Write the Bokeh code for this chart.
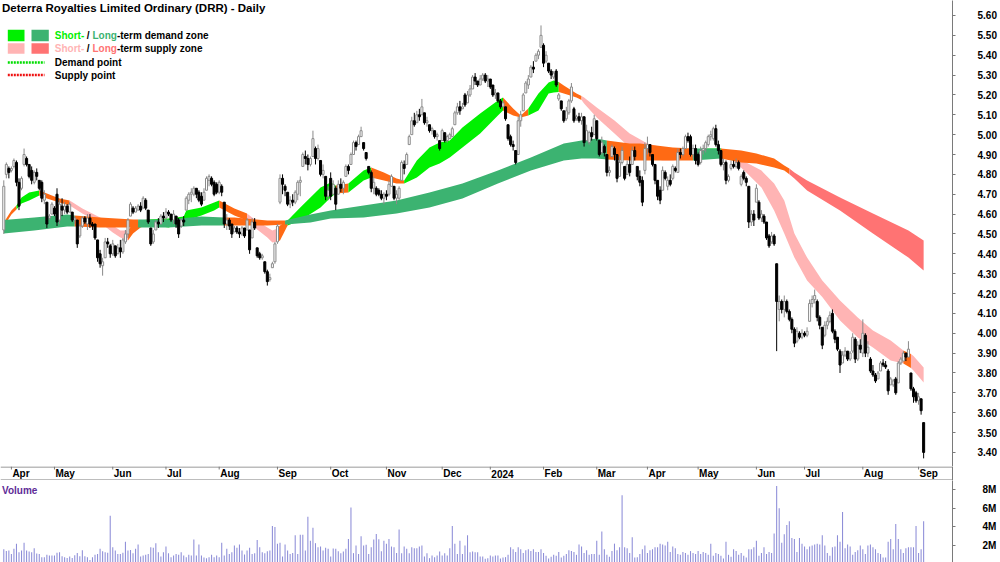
import numpy as np
import pandas as pd
from bokeh.plotting import figure
from bokeh.models import Range1d, FixedTicker, NumeralTickFormatter, Label
from bokeh.layouts import column
from bokeh.embed import file_html
from bokeh.resources import INLINE

# ---------------- data ----------------
asx_holidays = ["2023-04-07", "2023-04-10", "2023-04-25", "2023-06-12", "2023-12-25",
                "2023-12-26", "2024-01-01", "2024-01-26", "2024-03-29", "2024-04-01",
                "2024-04-25", "2024-06-10"]
first_day = "2023-03-29"
last_day = "2024-09-04"

opens = [
 4.52,4.80,4.83,4.82,4.84,4.86,4.76,4.73,4.85,4.88, 4.85,4.82,4.76,4.81,4.77,4.76,4.67,4.66,4.58,4.60,
 4.63,4.70,4.57,4.64,4.62,4.64,4.61,4.61,4.57,4.57, 4.49,4.54,4.58,4.55,4.58,4.55,4.55,4.47,4.40,4.34,
 4.38,4.46,4.44,4.40,4.44,4.40,4.43,4.41,4.46,4.50, 4.59,4.63,4.61,4.62,4.64,4.63,4.67,4.62,4.53,4.46,
 4.52,4.56,4.55,4.59,4.58,4.61,4.60,4.57,4.59,4.57, 4.54,4.57,4.62,4.67,4.70,4.70,4.73,4.71,4.69,4.67,
 4.72,4.77,4.78,4.76,4.75,4.71,4.74,4.66,4.55,4.57, 4.55,4.51,4.53,4.51,4.50,4.53,4.52,4.52,4.48,4.56,
 4.43,4.40,4.38,4.36,4.31,4.27,4.33,4.36,4.46,4.66, 4.78,4.74,4.71,4.65,4.67,4.66,4.70,4.76,4.84,4.89,
 4.88,4.85,4.89,4.93,4.88,4.87,4.80,4.79,4.69,4.78, 4.70,4.73,4.70,4.75,4.73,4.79,4.84,4.85,4.90,4.96,
 4.95,4.99,4.96,4.91,4.84,4.81,4.73,4.73,4.72,4.70, 4.68,4.70,4.70,4.74,4.74,4.68,4.68,4.77,4.85,4.85,
 4.95,5.00,5.07,5.06,5.10,5.10,5.11,5.06,5.05,5.02, 5.02,4.99,4.97,4.97,5.01,4.97,4.98,4.99,5.05,5.11,
 5.14,5.13,5.20,5.16,5.20,5.23,5.29,5.27,5.25,5.28, 5.30,5.27,5.28,5.25,5.20,5.21,5.17,5.14,5.14,5.05,
 4.99,4.95,4.92,4.90,5.07,5.12,5.21,5.25,5.29,5.34, 5.37,5.40,5.44,5.45,5.37,5.36,5.32,5.29,5.32,5.18,
 5.17,5.12,5.08,5.11,5.17,5.13,5.08,5.09,5.07,5.09, 4.97,4.96,5.01,5.00,5.07,4.97,4.91,4.94,4.90,4.81,
 4.89,4.93,4.90,4.79,4.86,4.84,4.80,4.85,4.85,4.92, 4.84,4.79,4.77,4.82,4.93,4.95,4.90,4.85,4.77,4.72,
 4.72,4.81,4.74,4.77,4.78,4.83,4.81,4.91,4.90,4.93, 4.99,4.99,4.90,4.93,4.90,4.86,4.92,4.93,4.95,4.99,
 4.98,5.03,4.95,4.92,4.85,4.86,4.77,4.83,4.85,4.84, 4.86,4.75,4.81,4.78,4.74,4.56,4.60,4.66,4.66,4.58,
 4.59,4.56,4.49,4.46,4.49,4.35,4.12,4.16,4.12,4.16, 4.11,4.07,4.02,3.96,4.00,3.98,4.00,3.99,4.06,4.15,
 4.17,4.16,4.08,4.03,3.99,4.04,4.06,4.10,4.01,3.98, 3.91,3.85,3.89,3.91,3.87,3.91,3.97,3.87,3.94,3.90,
 3.99,3.90,3.87,3.81,3.79,3.77,3.81,3.85,3.84,3.81, 3.74,3.74,3.77,3.75,3.85,3.86,3.90,3.88,3.80,3.72,
 3.70,3.66,3.67,3.55]
highs = [
 4.77,4.86,4.84,4.84,4.88,4.87,4.78,4.79,4.93,4.89, 4.85,4.84,4.82,4.83,4.77,4.77,4.72,4.66,4.60,4.66,
 4.64,4.73,4.67,4.68,4.66,4.65,4.66,4.61,4.59,4.57, 4.55,4.59,4.59,4.60,4.60,4.56,4.55,4.47,4.42,4.38,
 4.48,4.48,4.45,4.47,4.44,4.45,4.47,4.48,4.52,4.58, 4.66,4.64,4.64,4.65,4.66,4.69,4.68,4.62,4.53,4.52,
 4.57,4.58,4.60,4.61,4.63,4.62,4.60,4.62,4.59,4.58, 4.58,4.59,4.69,4.71,4.73,4.74,4.73,4.72,4.71,4.73,
 4.79,4.80,4.79,4.77,4.76,4.77,4.75,4.66,4.60,4.58, 4.55,4.54,4.54,4.53,4.54,4.53,4.58,4.52,4.58,4.58,
 4.43,4.41,4.40,4.36,4.32,4.30,4.36,4.46,4.55,4.80, 4.80,4.75,4.71,4.69,4.70,4.72,4.77,4.79,4.91,4.92,
 4.90,4.89,5.02,4.94,4.95,4.87,4.85,4.79,4.74,4.81, 4.77,4.74,4.77,4.78,4.77,4.85,4.85,4.91,4.97,4.97,
 5.00,5.04,4.96,4.91,4.84,4.82,4.79,4.74,4.73,4.72, 4.71,4.72,4.77,4.80,4.74,4.72,4.74,4.87,4.87,4.91,
 5.00,5.09,5.11,5.12,5.13,5.18,5.11,5.09,5.05,5.04, 5.02,5.01,4.97,5.03,5.01,5.00,5.01,5.04,5.12,5.16,
 5.17,5.16,5.21,5.22,5.25,5.30,5.31,5.27,5.30,5.31, 5.31,5.30,5.28,5.25,5.23,5.21,5.18,5.17,5.14,5.05,
 5.00,4.97,4.92,5.09,5.12,5.21,5.27,5.30,5.35,5.37, 5.41,5.43,5.55,5.46,5.42,5.36,5.33,5.32,5.33,5.21,
 5.17,5.12,5.14,5.18,5.26,5.14,5.10,5.11,5.11,5.09, 5.05,5.02,5.04,5.10,5.07,4.97,4.99,4.95,4.90,4.84,
 4.95,4.94,4.90,4.89,4.94,4.84,4.87,4.89,4.94,4.94, 4.84,4.82,4.79,4.96,4.99,4.95,4.90,4.85,4.77,4.74,
 4.84,4.82,4.79,4.80,4.85,4.84,4.93,4.93,4.94,5.00, 5.01,5.00,4.95,4.95,4.91,4.94,4.95,4.97,5.00,5.02,
 5.04,5.05,4.97,4.92,4.88,4.87,4.80,4.87,4.87,4.88, 4.87,4.80,4.82,4.79,4.74,4.62,4.62,4.75,4.67,4.62,
 4.60,4.56,4.50,4.51,4.50,4.35,4.19,4.17,4.19,4.17, 4.12,4.08,4.03,4.03,4.01,4.02,4.01,4.03,4.17,4.19,
 4.22,4.17,4.09,4.03,4.06,4.08,4.11,4.12,4.02,3.98, 3.92,3.91,3.93,3.91,3.91,4.00,3.98,3.96,3.97,4.07,
 4.00,3.96,3.88,3.84,3.80,3.81,3.86,3.87,3.86,3.82, 3.78,3.77,3.78,3.86,3.88,3.91,3.90,3.96,3.80,3.73,
 3.71,3.70,3.67,3.55]
lows = [
 4.50,4.78,4.78,4.81,4.83,4.74,4.62,4.72,4.84,4.84, 4.78,4.75,4.75,4.77,4.72,4.66,4.65,4.53,4.57,4.60,
 4.59,4.54,4.55,4.59,4.60,4.60,4.61,4.56,4.55,4.43, 4.48,4.53,4.55,4.52,4.53,4.52,4.47,4.36,4.33,4.29,
 4.38,4.43,4.38,4.39,4.38,4.40,4.38,4.40,4.45,4.48, 4.59,4.60,4.61,4.62,4.61,4.63,4.62,4.55,4.44,4.45,
 4.52,4.53,4.55,4.56,4.57,4.59,4.56,4.55,4.53,4.48, 4.53,4.54,4.62,4.65,4.66,4.69,4.68,4.66,4.64,4.67,
 4.72,4.74,4.74,4.69,4.70,4.70,4.69,4.53,4.52,4.52, 4.48,4.51,4.50,4.48,4.49,4.48,4.52,4.40,4.48,4.52,
 4.38,4.37,4.37,4.30,4.24,4.26,4.33,4.35,4.45,4.65, 4.70,4.69,4.64,4.63,4.64,4.65,4.67,4.69,4.84,4.85,
 4.82,4.84,4.89,4.85,4.87,4.79,4.78,4.67,4.67,4.67, 4.70,4.62,4.70,4.71,4.70,4.79,4.80,4.85,4.90,4.92,
 4.95,4.99,4.92,4.87,4.80,4.71,4.70,4.69,4.69,4.67, 4.65,4.67,4.69,4.74,4.67,4.65,4.67,4.77,4.80,4.85,
 4.95,5.00,5.04,5.06,5.07,5.10,5.05,5.04,5.01,5.00, 4.98,4.97,4.92,4.97,4.96,4.96,4.98,4.99,5.05,5.10,
 5.10,5.13,5.14,5.16,5.19,5.23,5.25,5.24,5.25,5.27, 5.26,5.24,5.23,5.19,5.18,5.16,5.13,5.14,5.07,4.97,
 4.94,4.92,4.85,4.90,5.04,5.12,5.21,5.23,5.29,5.31, 5.37,5.38,5.44,5.34,5.36,5.31,5.28,5.28,5.24,5.17,
 5.12,5.06,5.07,5.10,5.16,5.06,5.07,5.06,5.05,4.94, 4.97,4.95,4.97,5.00,4.97,4.89,4.90,4.89,4.79,4.79,
 4.89,4.87,4.76,4.79,4.85,4.77,4.80,4.79,4.85,4.87, 4.77,4.74,4.64,4.80,4.90,4.89,4.84,4.75,4.67,4.65,
 4.72,4.77,4.72,4.74,4.77,4.81,4.81,4.88,4.89,4.93, 4.96,4.89,4.88,4.85,4.84,4.85,4.90,4.91,4.94,4.97,
 4.97,4.94,4.90,4.84,4.82,4.75,4.76,4.82,4.83,4.83, 4.82,4.74,4.77,4.74,4.53,4.54,4.54,4.66,4.57,4.56,
 4.55,4.47,4.43,4.45,4.44,3.91,4.06,4.10,4.08,4.10, 4.06,4.00,3.93,3.95,3.97,3.97,3.98,3.98,4.06,4.13,
 4.15,4.06,4.02,3.92,3.98,4.02,4.05,4.00,3.95,3.91, 3.80,3.85,3.88,3.86,3.86,3.90,3.85,3.86,3.90,3.88,
 3.88,3.88,3.80,3.78,3.75,3.77,3.81,3.83,3.82,3.69, 3.74,3.73,3.69,3.75,3.84,3.86,3.86,3.88,3.71,3.65,
 3.65,3.64,3.59,3.37]
closes = [
 4.74,4.85,4.81,4.83,4.87,4.76,4.64,4.78,4.90,4.85, 4.79,4.77,4.81,4.79,4.73,4.68,4.70,4.55,4.59,4.65,
 4.60,4.56,4.65,4.62,4.64,4.61,4.65,4.57,4.58,4.45, 4.54,4.58,4.56,4.58,4.55,4.54,4.48,4.38,4.35,4.36,
 4.46,4.45,4.40,4.45,4.39,4.43,4.41,4.47,4.50,4.57, 4.65,4.61,4.63,4.64,4.62,4.68,4.63,4.56,4.45,4.50,
 4.56,4.55,4.59,4.58,4.61,4.60,4.57,4.60,4.55,4.50, 4.57,4.56,4.68,4.70,4.71,4.73,4.70,4.67,4.65,4.71,
 4.78,4.79,4.75,4.70,4.71,4.76,4.71,4.55,4.57,4.54, 4.50,4.53,4.51,4.50,4.53,4.49,4.57,4.42,4.56,4.53,
 4.39,4.38,4.39,4.31,4.26,4.28,4.35,4.45,4.54,4.78, 4.75,4.72,4.65,4.67,4.66,4.71,4.76,4.77,4.90,4.88,
 4.85,4.88,4.98,4.88,4.93,4.80,4.82,4.69,4.72,4.69, 4.75,4.65,4.75,4.73,4.76,4.84,4.82,4.90,4.96,4.94,
 4.99,5.02,4.93,4.88,4.81,4.73,4.76,4.70,4.70,4.68, 4.70,4.69,4.75,4.79,4.68,4.70,4.73,4.86,4.83,4.90,
 4.99,5.07,5.05,5.10,5.09,5.14,5.06,5.07,5.02,5.03, 4.99,5.00,4.93,5.02,4.97,4.99,5.00,5.03,5.11,5.14,
 5.12,5.14,5.15,5.20,5.23,5.29,5.27,5.25,5.28,5.30, 5.27,5.28,5.24,5.20,5.21,5.17,5.14,5.16,5.08,4.98,
 4.95,4.94,4.86,5.07,5.10,5.20,5.26,5.28,5.34,5.33, 5.40,5.42,5.50,5.36,5.40,5.32,5.30,5.31,5.25,5.20,
 5.13,5.07,5.12,5.17,5.24,5.07,5.09,5.07,5.09,4.96, 5.02,5.01,4.99,5.08,4.98,4.90,4.96,4.91,4.81,4.82,
 4.94,4.90,4.78,4.86,4.92,4.78,4.85,4.81,4.92,4.89, 4.79,4.76,4.66,4.93,4.95,4.91,4.85,4.77,4.69,4.67,
 4.82,4.78,4.77,4.75,4.84,4.82,4.91,4.90,4.93,4.99, 4.97,4.90,4.93,4.87,4.85,4.92,4.93,4.96,4.99,5.00,
 5.03,4.95,4.92,4.85,4.86,4.77,4.79,4.85,4.84,4.86, 4.83,4.79,4.78,4.76,4.56,4.60,4.57,4.73,4.58,4.60,
 4.56,4.48,4.44,4.49,4.45,4.16,4.16,4.12,4.16,4.11, 4.07,4.02,3.95,4.01,3.98,4.00,3.99,4.01,4.15,4.17,
 4.19,4.08,4.04,3.94,4.04,4.06,4.09,4.01,3.97,3.92, 3.84,3.89,3.91,3.87,3.90,3.98,3.87,3.94,3.92,4.00,
 3.90,3.93,3.81,3.79,3.76,3.80,3.85,3.84,3.83,3.71, 3.77,3.76,3.70,3.85,3.87,3.90,3.88,3.92,3.72,3.68,
 3.66,3.68,3.61,3.40]
volumes_m = [
 1.6,1.4,1.45,1.1,1.64,2.2,1.28,1.46,2.3,1.46, 1.35,1.28,1.7,1.15,1.1,0.75,0.75,1.0,0.92,0.92,
 0.92,1.21,1.28,0.85,0.75,0.67,0.82,0.67,0.95,1.2, 0.85,1.5,0.85,0.75,0.45,0.75,1.0,1.1,1.64,1.39,
 1.28,1.21,5.2,1.82,1.46,1.1,1.1,1.21,2.4,1.46, 1.53,1.18,1.64,2.11,0.82,0.92,1.0,1.1,1.8,1.75,
 2.25,1.28,0.82,1.28,1.9,1.18,0.75,0.92,1.1,1.0, 1.28,0.92,0.75,1.0,0.92,2.65,0.92,2.11,0.92,0.7,
 0.64,0.75,1.0,0.75,0.92,0.75,2.3,0.92,1.64,1.1, 1.28,2.0,1.75,2.11,1.46,1.03,1.46,1.75,1.1,1.18,
 2.6,1.82,1.28,1.18,1.39,1.46,4.1,4.0,2.2,2.3, 0.82,2.1,1.46,1.1,1.2,3.1,1.1,3.15,3.15,1.46,
 5.1,2.5,3.9,2.25,1.82,1.9,1.46,1.75,1.64,0.82, 1.68,1.64,1.39,1.18,1.35,1.64,2.7,6.1,1.18,2.0,
 1.1,3.0,2.0,2.07,1.1,1.82,2.65,3.25,2.68,1.39, 2.5,2.18,2.7,1.89,1.82,1.2,3.72,1.18,1.89,1.64,
 1.18,1.82,1.71,1.71,1.89,2.0,0.82,1.18,0.64,0.92, 0.75,0.92,1.35,0.92,1.18,0.92,1.71,4.1,2.2,1.1,
 2.5,1.1,2.0,3.1,1.28,1.35,1.28,1.28,0.82,0.82, 0.57,0.64,0.92,0.82,0.92,0.92,0.6,0.7,0.75,1.0,
 1.8,1.6,1.3,1.8,1.6,1.2,1.5,1.6,1.4,1.6, 1.3,1.3,1.6,1.2,0.9,0.6,0.8,1.0,0.9,1.3,
 0.7,0.9,1.1,1.5,1.4,1.3,1.0,2.1,1.9,1.2, 1.5,1.0,1.1,1.1,2.5,1.0,3.5,1.6,1.0,0.8,
 1.4,2.2,1.5,1.8,7.4,1.8,1.7,1.2,2.9,0.7, 0.75,1.1,1.6,2.0,1.2,1.5,1.6,1.8,1.8,2.2,
 2.1,2.0,2.4,1.3,1.9,1.7,1.1,1.0,1.3,1.2, 1.0,1.4,1.2,1.1,1.4,1.1,1.3,1.2,1.0,2.2,
 0.9,1.2,1.1,0.9,0.6,2.4,1.0,0.8,1.6,1.4, 1.0,1.2,0.9,0.7,1.6,1.6,1.8,2.5,0.9,1.2,
 1.8,1.1,1.3,1.2,3.3,8.4,6.0,2.3,3.2,4.2, 4.6,2.8,2.7,1.3,2.8,2.2,1.9,1.6,1.9,2.0,
 2.1,2.2,2.1,3.1,2.0,1.2,0.9,1.8,1.9,3.1, 2.4,5.6,1.7,2.1,1.9,1.0,1.3,1.5,2.0,1.6,
 1.1,2.0,2.1,1.8,1.6,1.2,1.1,0.7,0.7,2.4, 2.7,1.6,4.3,2.7,1.6,1.2,1.7,1.8,1.8,1.8,
 4.1,1.2,1.6,4.6]

# short-term zone (session number, upper, lower)
st_day = [0,3,5,7,10,14,17,22,26,31,38,43,46,49,51,54,57,65,71,72,78,83,85,91,96,98,104,106,108,109,
          112,117,125,129,131,136,142,145,150,155,158,163,168,172,176,181,188,195,197,201,204,207,211,
          215,217,219,221,226,228,229,234,241,247,254,260,264,270,271,276,283,288,293,299,304,308,312,
          317,323,330,337,343,350,355,358,359,363]
st_top = [4.558,4.618,4.643,4.684,4.709,4.719,4.704,4.679,4.668,4.628,4.583,4.543,4.517,4.517,4.553,
          4.568,4.573,4.578,4.588,4.618,4.633,4.658,4.668,4.628,4.603,4.583,4.532,4.517,4.527,4.543,
          4.568,4.633,4.734,4.759,4.744,4.754,4.819,4.835,4.809,4.779,4.769,4.870,4.935,4.960,4.971,
          5.036,5.107,5.172,5.187,5.132,5.096,5.132,5.207,5.263,5.273,5.265,5.247,5.207,5.195,5.187,
          5.137,5.071,5.006,4.955,4.935,4.895,4.915,4.920,4.930,4.930,4.895,4.860,4.819,4.754,4.668,
          4.502,4.381,4.266,4.165,4.079,4.014,3.963,3.913,3.895,3.885,3.828]
st_bot = [4.538,4.598,4.623,4.653,4.668,4.694,4.679,4.658,4.643,4.603,4.558,4.507,4.482,4.467,4.502,
          4.532,4.548,4.532,4.558,4.568,4.593,4.618,4.633,4.593,4.568,4.543,4.482,4.457,4.462,4.467,
          4.543,4.568,4.633,4.684,4.704,4.709,4.769,4.784,4.769,4.754,4.754,4.784,4.835,4.855,4.885,
          4.935,5.006,5.096,5.122,5.096,5.086,5.096,5.122,5.207,5.212,5.215,5.207,5.187,5.175,5.157,
          5.086,5.006,4.935,4.885,4.870,4.870,4.882,4.885,4.880,4.885,4.870,4.809,4.734,4.618,4.502,
          4.381,4.266,4.183,4.064,3.979,3.928,3.863,3.848,3.825,3.812,3.752]
st_state = [("supply_up", 0, 5), ("demand", 5, 14), ("supply_up", 14, 26), ("supply", 26, 49),
            ("supply_up", 49, 57), ("demand", 57, 85), ("supply_up", 85, 96), ("supply", 96, 108),
            ("supply_up", 108, 112), ("demand", 112, 131), ("supply_up", 131, 136), ("demand", 136, 145),
            ("supply_up", 145, 158), ("demand", 158, 197), ("supply_up", 197, 207), ("demand", 207, 219),
            ("supply_up", 219, 228), ("supply", 228, 270), ("demand", 270, 288), ("supply", 288, 355),
            ("supply_up", 355, 358), ("supply", 358, 363)]

# long-term zone
lt_day = [0,12,25,28,38,51,53,65,78,87,91,104,111,121,129,142,155,168,181,195,208,221,228,234,238,
          247,251,264,272,283,291,297,304,308,310,312,317,330,343,357,363]
lt_top = [4.570,4.583,4.598,4.593,4.583,4.573,4.573,4.573,4.588,4.583,4.583,4.568,4.568,4.598,4.618,
          4.643,4.668,4.709,4.754,4.819,4.885,4.955,4.971,4.981,4.971,4.955,4.955,4.935,4.930,4.930,
          4.920,4.905,4.880,4.845,4.830,4.809,4.769,4.684,4.603,4.517,4.467]
lt_bot = [4.502,4.517,4.538,4.538,4.532,4.532,4.532,4.532,4.543,4.543,4.543,4.543,4.548,4.558,4.578,
          4.583,4.603,4.633,4.679,4.754,4.819,4.870,4.880,4.880,4.875,4.870,4.870,4.870,4.870,4.880,
          4.860,4.855,4.835,4.819,4.800,4.779,4.719,4.618,4.502,4.381,4.316]
lt_state = [("demand", 0, 28), ("supply_up", 28, 53), ("demand", 53, 87), ("supply_up", 87, 111),
            ("demand", 111, 238), ("supply_up", 238, 272), ("demand", 272, 283), ("supply_up", 283, 310),
            ("supply", 310, 363)]

price_ticks = [3.40, 3.50, 3.60, 3.70, 3.80, 3.90, 4.00, 4.10, 4.20, 4.30, 4.40, 4.50,
               4.60, 4.70, 4.80, 4.90, 5.00, 5.10, 5.20, 5.30, 5.40, 5.50, 5.60]
volume_ticks = [2, 4, 6, 8]
volume_labels = ["2M", "4M", "6M", "8M"]

title_text = "Deterra Royalties Limited Ordinary (DRR) - Daily"

# ---------------- style ----------------
FONT = "Liberation Sans"
C_ST = {"demand": "#00f000", "supply": "#ffb4b4", "supply_up": "#ff6a14"}
C_LT = {"demand": "#3cb371", "supply": "#ff7373", "supply_up": "#ff6a14"}
C_UP_LINE = "#8a8a8a"
C_DOWN = "#000000"
C_VOL = "#8e8ed8"
C_AXIS = "#7a7a7a"

W = 1000
FRAME_W = 952
PX_DAY = 2.534
XL = -1.3
XR = XL + FRAME_W / PX_DAY
PX_UNIT = 198.6
H_PRICE = 466
YT = 5.6755
YB = YT - H_PRICE / PX_UNIT
H_STRIP = 14
H_VOL = 82
V_TOP = 8.99
V_BOT = V_TOP - H_VOL / 9.3


def fx(px):
    return XL + px / PX_DAY


def fy(py):
    return YT - py / PX_UNIT


dates = pd.bdate_range(first_day, last_day, freq="C", holidays=asx_holidays)
n = min(len(dates), len(closes))
dates = dates[:n]
idx = np.arange(n)
o = np.array(opens[:n]); h = np.array(highs[:n]); l = np.array(lows[:n]); c = np.array(closes[:n])
up = c >= o


def new_fig(height, y_range):
    f = figure(width=W, height=height, x_range=shared_x, y_range=y_range,
               output_backend="svg", toolbar_location=None, x_axis_location=None,
               y_axis_location="right", min_border_left=0, min_border_right=W - FRAME_W,
               min_border_top=0, min_border_bottom=0)
    f.outline_line_color = None
    f.grid.visible = False
    return f


def style_axis(ax, standoff):
    ax.axis_line_color = C_AXIS
    ax.major_tick_line_color = C_AXIS
    ax.major_tick_out = 3
    ax.major_tick_in = 0
    ax.minor_tick_line_color = None
    ax.major_label_text_font = FONT
    ax.major_label_text_font_size = "10px"
    ax.major_label_text_font_style = "bold"
    ax.major_label_text_color = "black"
    ax.major_label_standoff = standoff


def lab(fig, x, y, text, color="black", size="10px"):
    fig.add_layout(Label(x=x, y=y, text=text, text_font=FONT, text_font_size=size,
                         text_font_style="bold", text_color=color, text_align="left",
                         text_baseline="middle"))


shared_x = Range1d(XL, XR)

# ---------------- price figure ----------------
p = new_fig(H_PRICE, Range1d(YB, YT))
pax = p.yaxis[0]
pax.ticker = FixedTicker(ticks=price_ticks)
pax.formatter = NumeralTickFormatter(format="0.00")
style_axis(pax, 22)

sd = np.array(st_day); stt = np.array(st_top); stb = np.array(st_bot)
for state, a, b in st_state:
    m = (sd >= a) & (sd <= b)
    p.varea(x=sd[m], y1=stb[m], y2=stt[m], fill_color=C_ST[state])
ld = np.array(lt_day); ltt = np.array(lt_top); ltb = np.array(lt_bot)
for state, a, b in lt_state:
    m = (ld >= a) & (ld <= b)
    p.varea(x=ld[m], y1=ltb[m], y2=ltt[m], fill_color=C_LT[state])

# candles
p.segment(x0=idx[up], y0=l[up], x1=idx[up], y1=h[up], line_color=C_UP_LINE, line_width=1)
p.segment(x0=idx[~up], y0=l[~up], x1=idx[~up], y1=h[~up], line_color=C_DOWN, line_width=1)
p.vbar(x=idx[up], width=0.8, top=np.maximum(o, c)[up], bottom=np.minimum(o, c)[up],
       fill_color="white", line_color=C_UP_LINE, line_width=1)
p.vbar(x=idx[~up], width=0.8, top=np.maximum(o, c)[~up], bottom=np.minimum(o, c)[~up],
       fill_color=C_DOWN, line_color=C_DOWN, line_width=1)

# title and legend
lab(p, fx(1.5), fy(7.5), title_text, size="11.5px")
p.quad(left=[fx(7.3), fx(31)], right=[fx(24), fx(48.3)], top=[fy(29.3)] * 2, bottom=[fy(40.7)] * 2,
       fill_color=[C_ST["demand"], C_LT["demand"]], line_color=None)
p.quad(left=[fx(7.3), fx(31)], right=[fx(24), fx(48.3)], top=[fy(42.7)] * 2, bottom=[fy(53.3)] * 2,
       fill_color=[C_ST["supply"], C_LT["supply"]], line_color=None)
p.line([fx(7.3), fx(44)], [fy(62), fy(62)], line_color="#00dd00", line_width=2.5, line_dash="2 1")
p.line([fx(7.3), fx(44)], [fy(74.5), fy(74.5)], line_color="#ee1111", line_width=2.5, line_dash="2 1")
lab(p, fx(54.3), fy(35), "Short-", C_ST["demand"])
lab(p, fx(86.3), fy(35), "/")
lab(p, fx(92.0), fy(35), "Long", C_LT["demand"])
lab(p, fx(116.4), fy(35), "-term demand zone")
lab(p, fx(54.3), fy(48), "Short-", C_ST["supply"])
lab(p, fx(86.3), fy(48), "/")
lab(p, fx(92.0), fy(48), "Long", C_LT["supply"])
lab(p, fx(116.4), fy(48), "-term supply zone")
lab(p, fx(54.3), fy(62), "Demand point")
lab(p, fx(54.3), fy(74.5), "Supply point")

# ---------------- date strip ----------------
s = new_fig(H_STRIP, Range1d(0, H_STRIP))
sax = s.yaxis[0]
sax.ticker = FixedTicker(ticks=[])
sax.axis_line_color = C_AXIS
sax.major_tick_line_color = None
sax.minor_tick_line_color = None
sax.major_label_text_font_size = "0px"
months = dates.to_period("M")
tick_pos = [i for i in range(1, n) if months[i] != months[i - 1]]
tick_txt = [str(dates[i].year) if dates[i].month == 1 else dates[i].strftime("%b") for i in tick_pos]
s.segment(x0=[XL], y0=[H_STRIP - 0.5], x1=[XR], y1=[H_STRIP - 0.5], line_color=C_AXIS, line_width=1)
s.segment(x0=[XL], y0=[0.5], x1=[XR], y1=[0.5], line_color=C_AXIS, line_width=1)
s.segment(x0=tick_pos, y0=[H_STRIP] * len(tick_pos), x1=tick_pos, y1=[H_STRIP - 3] * len(tick_pos),
          line_color=C_AXIS, line_width=1)
for tp, tt in zip(tick_pos, tick_txt):
    lab(s, tp + 1.0 / PX_DAY, 6.7, tt)

# ---------------- volume ----------------
v = new_fig(H_VOL, Range1d(V_BOT, V_TOP))
vax = v.yaxis[0]
vax.ticker = FixedTicker(ticks=volume_ticks)
vax.major_label_overrides = {t: lbl for t, lbl in zip(volume_ticks, volume_labels)}
style_axis(vax, 27)
v.vbar(x=idx, width=0.42, top=np.array(volumes_m[:n]), bottom=0, fill_color=C_VOL, line_color=None)
lab(v, fx(1.5), V_TOP - 9.5 / 9.3, "Volume", "#5e2b97")

layout = column(p, s, v, spacing=0)
html = file_html(layout, INLINE)
open("out.html", "w").write(html)
